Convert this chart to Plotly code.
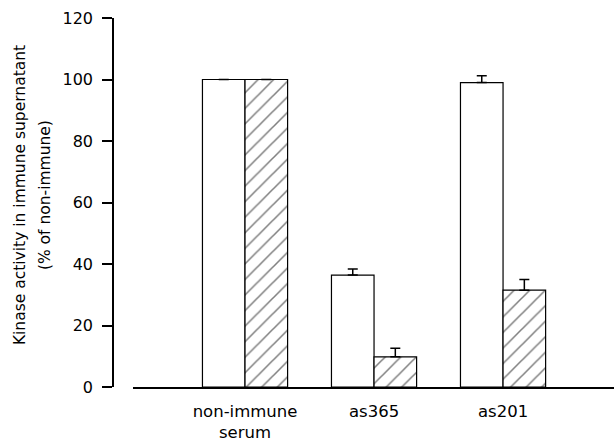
import plotly.graph_objects as go

categories = ["non-immune<br>serum", "as365", "as201"]
open_values = [100, 36.4, 99.0]
open_errors = [0, 2.0, 2.2]
hatched_values = [100, 9.8, 31.5]
hatched_errors = [0, 2.8, 3.5]
y_ticks = [0, 20, 40, 60, 80, 100, 120]
title_line1 = "Kinase activity in immune supernatant"
title_line2 = "(% of non-immune)"

font = "DejaVu Sans"

fig = go.Figure()
fig.add_trace(go.Bar(
    x=categories, y=open_values,
    marker=dict(color="white", line=dict(color="black", width=1.2)),
    error_y=dict(type="data", symmetric=False, array=open_errors,
                 arrayminus=[0, 0, 0], color="black", thickness=1.5, width=5),
    showlegend=False,
))
fig.add_trace(go.Bar(
    x=categories, y=hatched_values,
    marker=dict(color="white", line=dict(color="black", width=1.2),
                pattern=dict(shape="/", fgcolor="black", bgcolor="white",
                             size=11, solidity=0.14)),
    error_y=dict(type="data", symmetric=False, array=hatched_errors,
                 arrayminus=[0, 0, 0], color="black", thickness=1.5, width=5),
    showlegend=False,
))

fig.update_layout(
    width=614, height=443,
    margin=dict(l=113, r=0, t=18, b=56),
    plot_bgcolor="white", paper_bgcolor="white",
    barmode="group", bargap=0.34, bargroupgap=0,
    font=dict(family=font, color="black"),
    xaxis=dict(
        domain=[0.04, 1], range=[-0.868, 2.86],
        showline=True, linecolor="black", linewidth=2.2,
        showgrid=False, ticks="", ticklabelstandoff=8,
        tickfont=dict(size=16.5, family=font),
        zeroline=False,
    ),
    yaxis=dict(
        anchor="free", position=0,
        range=[0, 120], tickvals=y_ticks,
        showline=True, linecolor="black", linewidth=1.5,
        ticks="outside", ticklen=10, tickwidth=1.5, tickcolor="black",
        ticklabelstandoff=6,
        showgrid=False, zeroline=False,
        tickfont=dict(size=16, family=font),
    ),
    annotations=[
        dict(text=title_line1, textangle=-90, xref="paper", yref="paper",
             x=-113 / 501 + 20 / 501, y=0.52, xanchor="center", yanchor="middle",
             showarrow=False, font=dict(size=15.5, family=font)),
        dict(text=title_line2, textangle=-90, xref="paper", yref="paper",
             x=-113 / 501 + 45 / 501, y=0.52, xanchor="center", yanchor="middle",
             showarrow=False, font=dict(size=15.5, family=font)),
    ],
)

fig.write_html("out.html", config={"displayModeBar": False},
               post_script="document.body.style.margin='0';")
